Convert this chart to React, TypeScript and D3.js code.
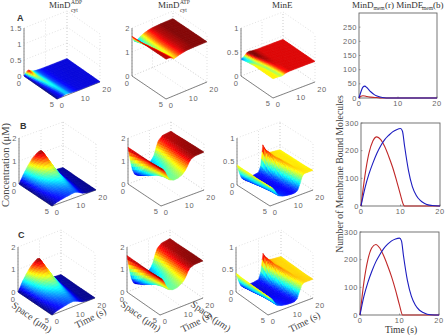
import React, { useEffect, useRef } from 'react';
import * as d3 from 'd3';

const spaceGrid = [0, 1, 2, 3, 4, 5];

// row A
const timesA = [0, 1, 2, 3, 4, 5, 6, 8, 10, 14, 20];
const a1 = [
  [0, 0.1, 0.13, 0.09, 0.05, 0.035, 0.025, 0.016, 0.013, 0.012, 0.012],
  [0, 0.035, 0.08, 0.07, 0.05, 0.035, 0.025, 0.016, 0.013, 0.012, 0.012],
  [0, 0.018, 0.045, 0.065, 0.052, 0.038, 0.026, 0.016, 0.013, 0.012, 0.012],
  [0, 0.014, 0.025, 0.05, 0.052, 0.04, 0.028, 0.017, 0.013, 0.012, 0.012],
  [0, 0.012, 0.016, 0.032, 0.048, 0.042, 0.03, 0.018, 0.013, 0.012, 0.012],
  [0, 0.012, 0.014, 0.024, 0.043, 0.042, 0.03, 0.019, 0.013, 0.012, 0.012],
];
const a2 = [
  [1.66, 1.42, 1.38, 1.44, 1.5, 1.54, 1.58, 1.63, 1.66, 1.68, 1.68],
  [1.66, 1.55, 1.45, 1.47, 1.52, 1.55, 1.59, 1.63, 1.66, 1.68, 1.68],
  [1.66, 1.62, 1.53, 1.48, 1.52, 1.56, 1.6, 1.64, 1.66, 1.68, 1.68],
  [1.66, 1.65, 1.6, 1.52, 1.52, 1.56, 1.6, 1.64, 1.66, 1.68, 1.68],
  [1.66, 1.66, 1.63, 1.57, 1.53, 1.56, 1.6, 1.64, 1.66, 1.68, 1.68],
  [1.66, 1.66, 1.65, 1.6, 1.55, 1.57, 1.6, 1.64, 1.67, 1.68, 1.68],
];
const a3 = [
  [0.35, 0.37, 0.41, 0.445, 0.45, 0.44, 0.435, 0.43, 0.43, 0.43, 0.43],
  [0.38, 0.37, 0.385, 0.42, 0.445, 0.44, 0.435, 0.43, 0.43, 0.43, 0.43],
  [0.4, 0.395, 0.385, 0.395, 0.42, 0.435, 0.435, 0.43, 0.43, 0.43, 0.43],
  [0.4, 0.4, 0.395, 0.385, 0.4, 0.42, 0.43, 0.43, 0.43, 0.43, 0.43],
  [0.4, 0.4, 0.4, 0.39, 0.39, 0.41, 0.425, 0.43, 0.43, 0.43, 0.43],
  [0.4, 0.4, 0.4, 0.395, 0.39, 0.4, 0.42, 0.43, 0.43, 0.43, 0.43],
];

// rows B and C, first column
const timesADP = [0, 2, 4, 6, 8, 9, 10, 11, 12, 14, 16, 20];
const b1 = [
  [0, 0.35, 0.65, 0.9, 1.05, 1.1, 1.12, 1.0, 0.8, 0.35, 0.05, 0.02],
  [0, 0.28, 0.5, 0.68, 0.8, 0.83, 0.85, 0.8, 0.62, 0.28, 0.06, 0.02],
  [0, 0.2, 0.36, 0.48, 0.55, 0.58, 0.6, 0.56, 0.45, 0.2, 0.05, 0.01],
  [0, 0.14, 0.25, 0.32, 0.38, 0.4, 0.42, 0.4, 0.33, 0.15, 0.04, 0.01],
  [0, 0.1, 0.17, 0.22, 0.26, 0.28, 0.3, 0.28, 0.24, 0.1, 0.03, 0.01],
  [0, 0.08, 0.13, 0.17, 0.2, 0.22, 0.23, 0.22, 0.18, 0.07, 0.02, 0.01],
];
const c1 = [
  [0, 0.38, 0.68, 0.92, 1.08, 1.14, 1.12, 0.95, 0.74, 0.32, 0.05, 0.02],
  [0, 0.3, 0.52, 0.7, 0.82, 0.86, 0.85, 0.76, 0.58, 0.26, 0.05, 0.02],
  [0, 0.21, 0.37, 0.5, 0.57, 0.6, 0.6, 0.54, 0.42, 0.18, 0.04, 0.01],
  [0, 0.15, 0.26, 0.34, 0.4, 0.42, 0.42, 0.38, 0.3, 0.13, 0.03, 0.01],
  [0, 0.11, 0.18, 0.24, 0.28, 0.3, 0.3, 0.27, 0.22, 0.09, 0.02, 0.01],
  [0, 0.09, 0.14, 0.18, 0.22, 0.23, 0.23, 0.2, 0.16, 0.06, 0.02, 0.01],
];

// rows B and C, second column
const timesATP = [0, 1, 2, 3, 4, 6, 8, 10, 11, 12, 13, 14, 16, 20];
const b2 = [
  [1.6, 1.0, 0.55, 0.33, 0.25, 0.3, 0.42, 0.58, 0.68, 0.82, 1.12, 1.38, 1.55, 1.6],
  [1.6, 1.2, 0.75, 0.5, 0.42, 0.45, 0.55, 0.68, 0.78, 0.92, 1.18, 1.42, 1.57, 1.6],
  [1.6, 1.35, 1.0, 0.75, 0.62, 0.62, 0.68, 0.8, 0.9, 1.05, 1.28, 1.47, 1.59, 1.62],
  [1.6, 1.45, 1.2, 0.98, 0.83, 0.78, 0.82, 0.93, 1.02, 1.15, 1.35, 1.52, 1.61, 1.63],
  [1.6, 1.52, 1.33, 1.12, 0.95, 0.88, 0.9, 1.0, 1.1, 1.22, 1.4, 1.55, 1.62, 1.64],
  [1.6, 1.55, 1.4, 1.18, 1.0, 0.92, 0.94, 1.03, 1.12, 1.25, 1.42, 1.56, 1.63, 1.65],
];
const c2 = [
  [1.62, 1.0, 0.52, 0.3, 0.22, 0.27, 0.4, 0.56, 0.66, 0.84, 1.16, 1.4, 1.56, 1.62],
  [1.62, 1.2, 0.72, 0.47, 0.4, 0.43, 0.53, 0.66, 0.76, 0.94, 1.22, 1.44, 1.58, 1.62],
  [1.62, 1.35, 0.98, 0.72, 0.6, 0.6, 0.66, 0.78, 0.88, 1.06, 1.3, 1.49, 1.6, 1.63],
  [1.62, 1.45, 1.18, 0.95, 0.8, 0.76, 0.8, 0.91, 1.0, 1.15, 1.36, 1.53, 1.62, 1.64],
  [1.62, 1.52, 1.32, 1.1, 0.92, 0.86, 0.88, 0.98, 1.08, 1.22, 1.42, 1.56, 1.63, 1.65],
  [1.62, 1.55, 1.38, 1.15, 0.98, 0.9, 0.92, 1.02, 1.1, 1.24, 1.43, 1.57, 1.64, 1.65],
];

// rows B and C, third column
const timesE = [0, 1, 2, 3, 4, 6, 8, 10, 11, 12, 13, 14, 15, 16, 18, 20];
const b3 = [
  [0.43, 0.25, 0.12, 0.07, 0.06, 0.07, 0.08, 0.1, 0.22, 0.65, 0.54, 0.47, 0.44, 0.43, 0.42, 0.41],
  [0.42, 0.28, 0.16, 0.1, 0.08, 0.07, 0.07, 0.09, 0.14, 0.36, 0.52, 0.46, 0.43, 0.42, 0.42, 0.41],
  [0.42, 0.32, 0.2, 0.13, 0.1, 0.08, 0.07, 0.08, 0.1, 0.2, 0.42, 0.48, 0.44, 0.42, 0.42, 0.41],
  [0.41, 0.34, 0.25, 0.17, 0.12, 0.09, 0.08, 0.08, 0.09, 0.14, 0.28, 0.44, 0.45, 0.42, 0.42, 0.41],
  [0.41, 0.36, 0.29, 0.2, 0.14, 0.1, 0.09, 0.08, 0.08, 0.1, 0.18, 0.34, 0.43, 0.43, 0.42, 0.41],
  [0.4, 0.37, 0.31, 0.22, 0.15, 0.11, 0.09, 0.08, 0.08, 0.09, 0.12, 0.24, 0.37, 0.42, 0.42, 0.42],
];
const c3 = [
  [0.42, 0.24, 0.11, 0.06, 0.05, 0.06, 0.07, 0.09, 0.24, 0.63, 0.53, 0.47, 0.44, 0.43, 0.42, 0.41],
  [0.41, 0.27, 0.15, 0.09, 0.07, 0.06, 0.06, 0.08, 0.15, 0.38, 0.52, 0.46, 0.43, 0.42, 0.42, 0.41],
  [0.41, 0.31, 0.19, 0.12, 0.09, 0.07, 0.06, 0.07, 0.1, 0.22, 0.43, 0.48, 0.44, 0.42, 0.42, 0.41],
  [0.41, 0.33, 0.24, 0.16, 0.11, 0.08, 0.07, 0.07, 0.08, 0.14, 0.3, 0.44, 0.45, 0.42, 0.42, 0.41],
  [0.41, 0.35, 0.28, 0.19, 0.13, 0.09, 0.08, 0.07, 0.07, 0.09, 0.18, 0.35, 0.43, 0.43, 0.42, 0.41],
  [0.4, 0.36, 0.3, 0.21, 0.14, 0.1, 0.08, 0.07, 0.07, 0.08, 0.12, 0.25, 0.38, 0.42, 0.42, 0.42],
];

// membrane bound molecule curves
const tTop = [0, 0.5, 1, 1.5, 2, 3, 4, 5, 6, 8, 20];
const redTop = [0, 6, 8, 7, 5, 3, 2, 1, 0, 0, 0];
const blueTop = [0, 22, 38, 42, 37, 22, 11, 5, 2, 0, 0];
const tRed = [0, 1, 2, 3, 4, 5, 6, 7, 8, 9, 10, 10.8, 11, 20];
const redB = [0, 110, 190, 235, 250, 240, 215, 180, 140, 92, 40, 3, 0, 0];
const redC = [0, 120, 200, 243, 255, 242, 214, 178, 138, 90, 36, 0, 0, 0];
const tBlue = [0, 1, 2, 3, 4, 5, 6, 7, 8, 9, 10, 10.5, 11, 12, 13, 14, 15, 16, 17, 18, 20];
const blueB = [0, 65, 115, 155, 190, 218, 240, 255, 268, 276, 280, 270, 220, 130, 70, 38, 20, 10, 4, 2, 0];
const blueC = [0, 68, 118, 158, 192, 218, 240, 256, 268, 275, 278, 268, 215, 125, 68, 36, 18, 9, 3, 1, 0];

const jetStops = [0, 0.125, 0.375, 0.625, 0.875, 1];
const jetColors = ['#000080', '#0000ff', '#00ffff', '#ffff00', '#ff0000', '#800000'];

const ink = '#666';
const tickFont = '"Liberation Sans", sans-serif';
const serif = '"Liberation Serif", serif';

type Pt = [number, number];
type Panel = {
  values: number[][];
  times: number[];
  origin: Pt;
  spaceEnd: Pt;
  timeEnd: Pt;
  zTop: number;
  zPx: number;
  ticks: number[];
  color: [number, number];
};

const panels: Panel[] = [
  { values: a1, times: timesA, origin: [24, 76], spaceEnd: [57, 99], timeEnd: [100, 82], zTop: 1.5, zPx: 48, ticks: [0, 0.5, 1, 1.5], color: [0, 0.135] },
  { values: a2, times: timesA, origin: [132, 76], spaceEnd: [166, 99], timeEnd: [207, 82], zTop: 2, zPx: 48, ticks: [0, 1, 2], color: [1.3, 1.68] },
  { values: a3, times: timesA, origin: [241, 76], spaceEnd: [273, 98], timeEnd: [315, 82], zTop: 1, zPx: 48, ticks: [0, 0.5, 1], color: [0.33, 0.44] },
  { values: b1, times: timesADP, origin: [19, 184], spaceEnd: [52, 206], timeEnd: [96, 190], zTop: 2, zPx: 46, ticks: [0, 1, 2], color: [0, 1.12] },
  { values: b2, times: timesATP, origin: [128, 184], spaceEnd: [161, 206], timeEnd: [204, 190], zTop: 2, zPx: 46, ticks: [0, 1, 2], color: [0.2, 1.65] },
  { values: b3, times: timesE, origin: [237, 185], spaceEnd: [270, 206], timeEnd: [313, 190], zTop: 1, zPx: 47, ticks: [0, 0.5, 1], color: [0, 0.65] },
  { values: c1, times: timesADP, origin: [18, 292], spaceEnd: [52, 315], timeEnd: [95, 298], zTop: 2, zPx: 45, ticks: [0, 1, 2], color: [0, 1.14] },
  { values: c2, times: timesATP, origin: [127, 292], spaceEnd: [160, 315], timeEnd: [203, 298], zTop: 2, zPx: 45, ticks: [0, 1, 2], color: [0.2, 1.65] },
  { values: c3, times: timesE, origin: [236, 292], spaceEnd: [268, 315], timeEnd: [313, 298], zTop: 1, zPx: 45, ticks: [0, 0.5, 1], color: [0, 0.63] },
];

function drawSurface(g: any, p: Panel) {
  const sx = d3.scaleLinear([0, 5], [0, p.spaceEnd[0] - p.origin[0]]);
  const sy = d3.scaleLinear([0, 5], [0, p.spaceEnd[1] - p.origin[1]]);
  const tx = d3.scaleLinear([0, 20], [0, p.timeEnd[0] - p.spaceEnd[0]]);
  const ty = d3.scaleLinear([0, 20], [0, p.timeEnd[1] - p.spaceEnd[1]]);
  const z = d3.scaleLinear([0, p.zTop], [0, p.zPx]);
  const project = (s: number, t: number, v: number): Pt => [
    p.origin[0] + sx(s) + tx(t),
    p.origin[1] + sy(s) + ty(t) - z(v),
  ];
  const stops = jetStops.map(d => p.color[0] + d * (p.color[1] - p.color[0]));
  const jet = d3.scaleLinear<string>().domain(stops).range(jetColors).clamp(true);

  // box walls with dotted grid
  const grid = g.append('g').attr('fill', 'none').attr('stroke', '#ccc').attr('stroke-width', 0.6).attr('stroke-dasharray', '1 2');
  const seg = (a: Pt, b: Pt) => grid.append('line').attr('x1', a[0]).attr('y1', a[1]).attr('x2', b[0]).attr('y2', b[1]);
  for (const v of p.ticks) {
    seg(project(0, 0, v), project(0, 20, v));
    seg(project(0, 20, v), project(5, 20, v));
  }
  for (const t of [0, 10, 20]) {
    seg(project(0, t, 0), project(0, t, p.zTop));
    seg(project(0, t, 0), project(5, t, 0));
  }
  for (const s of [0, 5]) {
    seg(project(s, 20, 0), project(s, 20, p.zTop));
    seg(project(s, 0, 0), project(s, 20, 0));
  }

  // axes in front
  const axisPts = [project(0, 0, p.zTop), project(0, 0, 0), project(5, 0, 0), project(5, 20, 0)];
  g.append('path').attr('d', d3.line()(axisPts)).attr('fill', 'none').attr('stroke', ink).attr('stroke-width', 0.8);

  const surf = g.append('g');
  const nT = p.times.length - 1;
  const nS = 4;
  // later times drawn first, each time column from the space=0 side outwards
  for (let j = nT - 1; j >= 0; j--) {
    const t0 = p.times[j];
    const t1 = p.times[j + 1];
    const nTm = Math.max(2, Math.ceil((t1 - t0) * 3));
    for (let m = nTm - 1; m >= 0; m--) {
      for (let i = 0; i < spaceGrid.length - 1; i++) {
        for (let n = 0; n < nS; n++) {
          const value = (u: number, w: number) => {
            const a = p.values[i][j] * (1 - w) + p.values[i][j + 1] * w;
            const b = p.values[i + 1][j] * (1 - w) + p.values[i + 1][j + 1] * w;
            return a * (1 - u) + b * u;
          };
          const u0 = n / nS, u1 = (n + 1) / nS, w0 = m / nTm, w1 = (m + 1) / nTm;
          const s = (u: number) => spaceGrid[i] + u * (spaceGrid[i + 1] - spaceGrid[i]);
          const t = (w: number) => t0 + w * (t1 - t0);
          const pts = [
            project(s(u0), t(w0), value(u0, w0)),
            project(s(u1), t(w0), value(u1, w0)),
            project(s(u1), t(w1), value(u1, w1)),
            project(s(u0), t(w1), value(u0, w1)),
          ];
          const col = jet(value((u0 + u1) / 2, (w0 + w1) / 2));
          surf.append('polygon')
            .attr('points', pts.map(d => d.join(',')).join(' '))
            .attr('fill', col)
            .attr('stroke', col)
            .attr('stroke-width', 0.4);
        }
      }
    }
  }

  // tick labels
  const lab = (str: string, x: number, y: number, anchor = 'middle') =>
    g.append('text').attr('x', x).attr('y', y).attr('text-anchor', anchor)
      .attr('font-family', tickFont).attr('font-size', 7.5).attr('letter-spacing', 0.5).attr('fill', '#666').text(str);
  for (const v of p.ticks) {
    const q = project(0, 0, v);
    lab(String(v), q[0] - 2, q[1] + 2.5, 'end');
  }
  const o = project(0, 0, 0);
  lab('0', o[0] - 5, o[1] + 10);
  const f = project(5, 0, 0);
  lab('5', f[0] - 5, f[1] + 8);
  lab('0', f[0] + 5, f[1] + 9);
  const m10 = project(5, 10, 0);
  lab('10', m10[0] + 7, m10[1] + 10);
  const r = project(5, 20, 0);
  lab('20', r[0] + 7, r[1] + 10);
}

type Line = {
  box: [number, number, number, number];
  yTicks: number[];
  tRedVals: number[];
  red: number[];
  tBlueVals: number[];
  blue: number[];
};

const linePanels: Line[] = [
  { box: [359, 437, 13, 98], yTicks: [0, 50, 100, 150, 200, 250], tRedVals: tTop, red: redTop, tBlueVals: tTop, blue: blueTop },
  { box: [361, 440, 123, 206], yTicks: [0, 100, 200, 300], tRedVals: tRed, red: redB, tBlueVals: tBlue, blue: blueB },
  { box: [360, 439, 232, 315], yTicks: [0, 100, 200, 300], tRedVals: tRed, red: redC, tBlueVals: tBlue, blue: blueC },
];

function drawLines(g: any, p: Line) {
  const [l, r, t, b] = p.box;
  const x = d3.scaleLinear([0, 20], [l, r]);
  const y = d3.scaleLinear([0, 300], [b, t]);
  g.append('rect').attr('x', l).attr('y', t).attr('width', r - l).attr('height', b - t)
    .attr('fill', 'none').attr('stroke', ink).attr('stroke-width', 0.9);
  const txt = (str: string, tx: number, ty: number, anchor: string) =>
    g.append('text').attr('x', tx).attr('y', ty).attr('text-anchor', anchor)
      .attr('font-family', tickFont).attr('font-size', 7.5).attr('letter-spacing', 0.5).attr('fill', '#666').text(str);
  for (const v of p.yTicks) {
    g.append('line').attr('x1', l).attr('x2', l + 1.5).attr('y1', y(v)).attr('y2', y(v)).attr('stroke', ink).attr('stroke-width', 0.6);
    txt(String(v), l - 2, y(v) + 2.5, 'end');
  }
  for (const v of [0, 10, 20]) {
    g.append('line').attr('x1', x(v)).attr('x2', x(v)).attr('y1', b).attr('y2', b - 1.5).attr('stroke', ink).attr('stroke-width', 0.6);
    txt(String(v), x(v), b + 8, 'middle');
  }
  const curve = (ts: number[], vs: number[], color: string) => {
    const line = d3.line<number>().x((_, i) => x(ts[i])).y(d => y(d)).curve(d3.curveMonotoneX);
    g.append('path').attr('d', line(vs)).attr('fill', 'none').attr('stroke', color).attr('stroke-width', 1.1);
  };
  curve(p.tRedVals, p.red, '#c02828');
  curve(p.tBlueVals, p.blue, '#1c1cc0');
}

function drawText(svg: any) {
  const t = (str: string, x: number, y: number, size: number, family = serif, anchor = 'start', fill = '#333', rot = 0) =>
    svg.append('text').attr('x', x).attr('y', y).attr('font-size', size).attr('font-family', family)
      .attr('text-anchor', anchor).attr('fill', fill)
      .attr('transform', rot ? `rotate(${rot} ${x} ${y})` : null).text(str);

  t('MinD', 49, 8, 9);
  t('ADP', 71, 4, 5.5);
  t('cyt', 71, 11.5, 5.5);
  t('MinD', 158, 8, 9);
  t('ATP', 180, 4, 5.5);
  t('cyt', 180, 11.5, 5.5);
  t('MinE', 272, 8, 9);

  t('MinD', 352, 8, 9);
  t('mem', 373.5, 10, 5.5);
  t('(r) MinDE', 385, 8, 9);
  t('mem', 422, 10, 5.5);
  t('(b)', 433, 8, 9);

  t('A', 17, 21, 9, '"Liberation Sans", sans-serif').attr('font-weight', 'bold');
  t('B', 20, 129, 9, '"Liberation Sans", sans-serif').attr('font-weight', 'bold');
  t('C', 18, 238, 9, '"Liberation Sans", sans-serif').attr('font-weight', 'bold');

  t('Concentration (μM)', 9, 165, 10.5, serif, 'middle', '#444', -90);
  t('Number of Membrane Bound Molecules', 343, 174, 9.7, serif, 'middle', '#444', -90);
  t('Time (s)', 401, 333, 9.5, serif, 'middle');

  t('Space (μm)', 30, 320, 10, serif, 'middle', '#444', 35);
  t('Time (s)', 92, 321, 10, serif, 'middle', '#444', -27);
  t('Space (μm)', 139, 319, 10, serif, 'middle', '#444', 35);
  t('Time (s)', 198, 325, 10, serif, 'middle', '#444', -27);
  t('Space (μm)', 209, 319, 10, serif, 'middle', '#444', 35);
  t('Time (s)', 306, 325, 10, serif, 'middle', '#444', -27);
}

export default function App() {
  const ref = useRef<SVGSVGElement>(null);
  useEffect(() => {
    const svg = d3.select(ref.current);
    svg.selectAll('*').remove();
    for (const p of panels) drawSurface(svg.append('g'), p);
    for (const p of linePanels) drawLines(svg.append('g'), p);
    drawText(svg);
  }, []);
  return (
    <svg
      ref={ref}
      width={446}
      height={335}
      style={{ position: 'absolute', left: 0, top: 0, background: '#fff' }}
    />
  );
}
